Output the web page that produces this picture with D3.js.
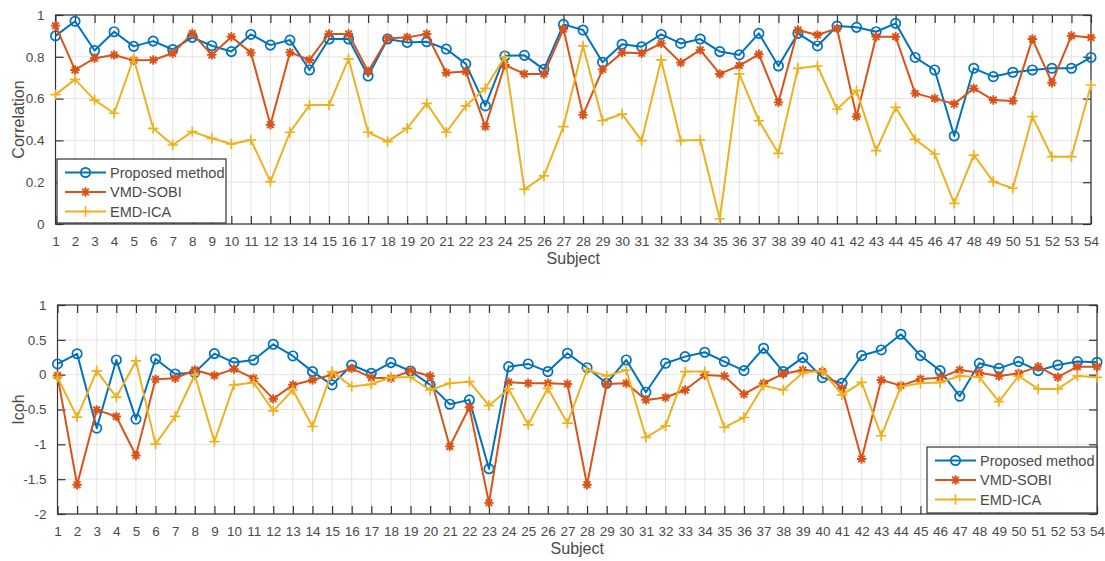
<!DOCTYPE html>
<html>
<head>
<meta charset="utf-8">
<script src="https://cdn.jsdelivr.net/npm/d3@7"></script>
<style>
  html, body { margin: 0; padding: 0; background: #fff; }
  svg { display: block; font-family: "Liberation Sans", Arial, Helvetica, sans-serif; }
</style>
</head>
<body>
<svg id="chart" width="1105" height="561"></svg>
<script>
// Subjects 1..54
const subjects = d3.range(1, 55);

// Correlation per subject
const corrProposed = [0.90,0.97,0.83,0.92,0.85,0.875,0.835,0.893,0.853,0.825,0.907,0.856,0.88,0.737,0.885,0.885,0.708,
  0.885,0.869,0.872,0.837,0.766,0.565,0.804,0.807,0.74,0.955,0.928,0.774,0.86,0.848,0.907,0.864,0.885,0.825,
  0.809,0.912,0.756,0.912,0.852,0.947,0.941,0.92,0.96,0.797,0.737,0.421,0.745,0.705,0.726,0.737,0.745,0.745,0.797];
const corrVmdSobi = [0.949,0.737,0.793,0.809,0.783,0.785,0.817,0.912,0.809,0.896,0.82,0.475,0.821,0.785,0.909,0.909,0.73,
  0.888,0.893,0.909,0.724,0.73,0.466,0.761,0.718,0.718,0.933,0.522,0.74,0.82,0.817,0.864,0.772,0.833,0.718,
  0.758,0.812,0.582,0.928,0.904,0.936,0.514,0.896,0.896,0.625,0.601,0.574,0.649,0.593,0.589,0.885,0.676,0.901,0.892];
const corrEmdIca = [0.619,0.692,0.593,0.53,0.793,0.458,0.378,0.442,0.41,0.383,0.402,0.203,0.439,0.569,0.569,0.79,0.439,
  0.394,0.458,0.577,0.439,0.565,0.649,0.80,0.166,0.23,0.466,0.852,0.494,0.526,0.399,0.785,0.399,0.402,0.024,
  0.718,0.494,0.338,0.745,0.756,0.549,0.638,0.351,0.558,0.405,0.335,0.099,0.33,0.203,0.171,0.514,0.322,0.322,0.665];

// Imaginary coherence per subject
const icohProposed = [0.154,0.30,-0.768,0.211,-0.639,0.225,0.01,0.03,0.302,0.173,0.211,0.436,0.269,0.044,-0.147,0.139,0.02,
  0.173,0.053,-0.147,-0.424,-0.362,-1.35,0.115,0.154,0.044,0.307,0.10,-0.123,0.211,-0.252,0.163,0.259,0.322,0.188,
  0.058,0.379,0.044,0.245,-0.043,-0.123,0.274,0.355,0.58,0.274,0.058,-0.31,0.163,0.091,0.188,0.058,0.139,0.188,0.178];
const icohVmdSobi = [-0.013,-1.58,-0.505,-0.60,-1.16,-0.067,-0.053,0.067,-0.013,0.08,-0.053,-0.347,-0.147,-0.076,0.0,0.09,-0.043,
  -0.053,0.057,-0.019,-1.03,-0.467,-1.84,-0.11,-0.123,-0.123,-0.133,-1.58,-0.133,-0.123,-0.362,-0.328,-0.22,-0.005,-0.019,
  -0.28,-0.123,0.01,0.067,0.044,-0.196,-1.21,-0.076,-0.157,-0.062,-0.043,0.067,0.029,-0.019,0.019,0.115,-0.037,0.115,0.115];
const icohEmdIca = [-0.037,-0.61,0.053,-0.323,0.197,-0.997,-0.60,-0.005,-0.96,-0.147,-0.113,-0.519,-0.22,-0.744,0.044,-0.17,-0.138,
  -0.037,-0.037,-0.22,-0.123,-0.10,-0.443,-0.205,-0.72,-0.196,-0.696,0.067,-0.019,0.067,-0.90,-0.734,0.044,0.044,-0.758,
  -0.615,-0.157,-0.22,0.029,0.053,-0.29,-0.11,-0.877,-0.17,-0.123,-0.113,-0.019,-0.037,-0.386,-0.019,-0.205,-0.205,-0.019,-0.037];

const seriesNames = ["Proposed method", "VMD-SOBI", "EMD-ICA"];
const seriesColors = ["#0072BD", "#D95319", "#EDB120"];
const seriesMarkers = ["circle", "asterisk", "plus"];

const corrTicks = [0, 0.2, 0.4, 0.6, 0.8, 1];
const corrTickLabels = ["0", "0.2", "0.4", "0.6", "0.8", "1"];
const icohTicks = [-2, -1.5, -1, -0.5, 0, 0.5, 1];
const icohTickLabels = ["-2", "-1.5", "-1", "-0.5", "0", "0.5", "1"];

const svg = d3.select("#chart");
const axisColor = "#333333";
const labelColor = "#4a4a4a";
const gridColor = "#e3e3e3";

function drawMarker(g, type, color) {
  const r = 4.7;
  if (type === "circle") {
    g.append("circle").attr("r", r).attr("fill", "none").attr("stroke", color).attr("stroke-width", 1.7);
  } else if (type === "asterisk") {
    const p = d3.path();
    for (let k = 0; k < 4; k++) {
      const a = k * Math.PI / 4;
      p.moveTo(-r * Math.cos(a), -r * Math.sin(a));
      p.lineTo(r * Math.cos(a), r * Math.sin(a));
    }
    g.append("path").attr("d", p.toString()).attr("stroke", color).attr("stroke-width", 1.9).attr("fill", "none");
  } else {
    const p = d3.path();
    p.moveTo(-r - 0.5, 0); p.lineTo(r + 0.5, 0);
    p.moveTo(0, -r - 0.5); p.lineTo(0, r + 0.5);
    g.append("path").attr("d", p.toString()).attr("stroke", color).attr("stroke-width", 1.7).attr("fill", "none");
  }
}

function panel(opts) {
  const { x0, x1, yTop, yBot, yDomain, yTicks, yTickLabels, ylabel, ylabelX, series, legend } = opts;
  const x = d3.scaleLinear().domain([1, 54]).range([x0, x1]);
  const y = d3.scaleLinear().domain(yDomain).range([yBot, yTop]);
  const g = svg.append("g");

  // grid
  g.append("g").selectAll("line").data(subjects).join("line")
    .attr("x1", d => x(d)).attr("x2", d => x(d)).attr("y1", yTop).attr("y2", yBot)
    .attr("stroke", gridColor).attr("stroke-width", 1);
  g.append("g").selectAll("line").data(yTicks).join("line")
    .attr("x1", x0).attr("x2", x1).attr("y1", d => y(d)).attr("y2", d => y(d))
    .attr("stroke", gridColor).attr("stroke-width", 1);

  // axes with inward ticks
  const ax = g.append("g").attr("transform", `translate(0,${yBot})`)
    .call(d3.axisBottom(x).tickValues(subjects).tickFormat(d3.format("d")).tickSizeInner(-8).tickSizeOuter(0).tickPadding(12));
  const axTop = g.append("g").attr("transform", `translate(0,${yTop})`)
    .call(d3.axisTop(x).tickValues(subjects).tickFormat("").tickSizeInner(-8).tickSizeOuter(0));
  const ay = g.append("g").attr("transform", `translate(${x0},0)`)
    .call(d3.axisLeft(y).tickValues(yTicks).tickFormat((d, i) => yTickLabels[i]).tickSizeInner(-8).tickSizeOuter(0).tickPadding(11));
  const ayR = g.append("g").attr("transform", `translate(${x1},0)`)
    .call(d3.axisRight(y).tickValues(yTicks).tickFormat("").tickSizeInner(-8).tickSizeOuter(0));
  [ax, axTop, ay, ayR].forEach(a => {
    a.select(".domain").remove();
    a.selectAll("line").attr("stroke", axisColor).attr("stroke-width", 1.2);
    a.selectAll("text").attr("fill", labelColor).attr("font-size", 13.5);
  });

  // frame
  g.append("rect").attr("x", x0).attr("y", yTop).attr("width", x1 - x0).attr("height", yBot - yTop)
    .attr("fill", "none").attr("stroke", axisColor).attr("stroke-width", 1.2);

  // series
  const line = d3.line().x((d, i) => x(subjects[i])).y(d => y(d));
  series.forEach((vals, si) => {
    g.append("path").datum(vals).attr("d", line).attr("fill", "none")
      .attr("stroke", seriesColors[si]).attr("stroke-width", 2).attr("stroke-linejoin", "round");
    vals.forEach((v, i) => {
      const mg = g.append("g").attr("transform", `translate(${x(subjects[i])},${y(v)})`);
      drawMarker(mg, seriesMarkers[si], seriesColors[si]);
    });
  });

  // labels
  g.append("text").attr("x", (x0 + x1) / 2).attr("y", yBot + 40).attr("text-anchor", "middle")
    .attr("fill", labelColor).attr("font-size", 16).text("Subject");
  g.append("text").attr("transform", `translate(${ylabelX},${(yTop + yBot) / 2}) rotate(-90)`)
    .attr("text-anchor", "middle").attr("fill", labelColor).attr("font-size", 16).text(ylabel);

  // legend
  const lg = g.append("g").attr("transform", `translate(${legend.x},${legend.y})`);
  lg.append("rect").attr("width", legend.w).attr("height", legend.h)
    .attr("fill", "#fff").attr("stroke", axisColor).attr("stroke-width", 1.2);
  seriesNames.forEach((name, si) => {
    const ry = 13.5 + si * 19.5;
    lg.append("line").attr("x1", 8).attr("x2", 49).attr("y1", ry).attr("y2", ry)
      .attr("stroke", seriesColors[si]).attr("stroke-width", 2);
    const mg = lg.append("g").attr("transform", `translate(28.5,${ry})`);
    drawMarker(mg, seriesMarkers[si], seriesColors[si]);
    lg.append("text").attr("x", 53).attr("y", ry).attr("dy", "0.36em")
      .attr("fill", labelColor).attr("font-size", 14.5).text(name);
  });
}

panel({
  x0: 55.5, x1: 1091, yTop: 15, yBot: 224,
  yDomain: [0, 1], yTicks: corrTicks, yTickLabels: corrTickLabels,
  ylabel: "Correlation", ylabelX: 24,
  series: [corrProposed, corrVmdSobi, corrEmdIca],
  legend: { x: 57, y: 159, w: 169, h: 64 }
});

panel({
  x0: 57.5, x1: 1097, yTop: 305, yBot: 514,
  yDomain: [-2, 1], yTicks: icohTicks, yTickLabels: icohTickLabels,
  ylabel: "Icoh", ylabelX: 24,
  series: [icohProposed, icohVmdSobi, icohEmdIca],
  legend: { x: 927, y: 447, w: 170, h: 66 }
});
</script>
</body>
</html>
